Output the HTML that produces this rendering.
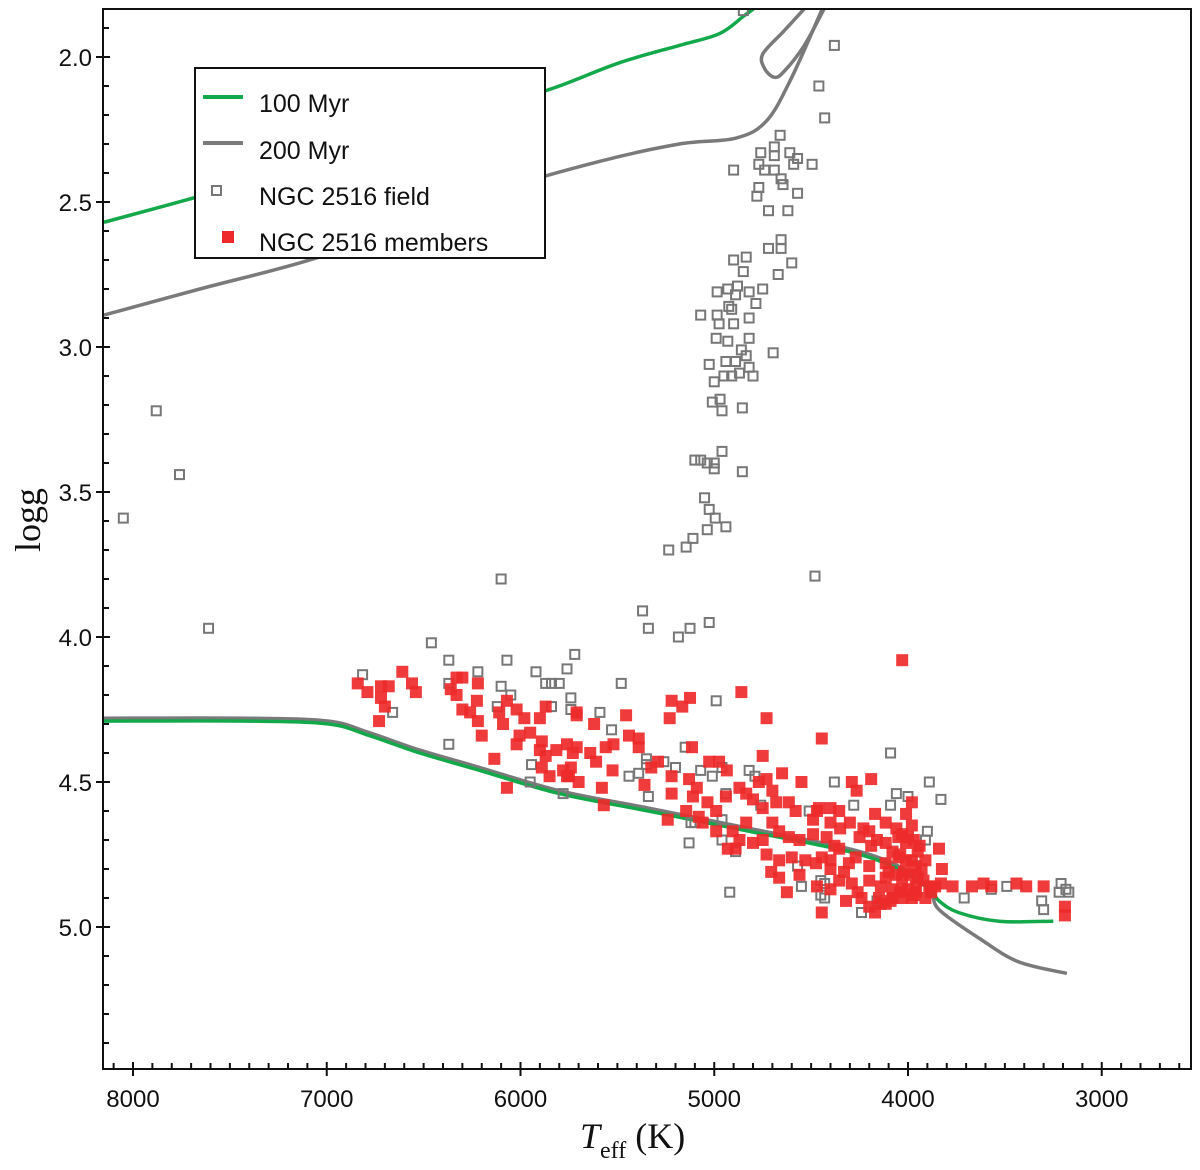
<!DOCTYPE html>
<html><head><meta charset="utf-8"><style>
html,body{margin:0;padding:0;background:#fff;}
svg{display:block;font-family:"Liberation Sans",sans-serif;}
</style></head><body>
<svg id="chart" width="1200" height="1170" viewBox="0 0 1200 1170" xmlns="http://www.w3.org/2000/svg">
<defs><clipPath id="plotclip"><rect x="103" y="9" width="1088" height="1060"/></clipPath></defs>
<g id="curves" clip-path="url(#plotclip)"></g>
<g id="fieldg" clip-path="url(#plotclip)"></g>
<g id="memg" clip-path="url(#plotclip)"></g>
<rect x="103" y="9" width="1088" height="1060" fill="none" stroke="#111" stroke-width="2"/>
<g id="axes"></g>
<text transform="translate(40,520) rotate(-90)" text-anchor="middle" font-family="Liberation Serif, serif" font-size="36" fill="#111">logg</text>
<text x="580" y="1148" font-family="Liberation Serif, serif" font-size="36" fill="#111"><tspan font-style="italic">T</tspan><tspan font-size="24" dy="10">eff</tspan><tspan dy="-10"> (K)</tspan></text>
<g>
<rect x="195" y="68" width="350" height="190" fill="#fff" stroke="#111" stroke-width="2"/>
<line x1="203" y1="97" x2="243" y2="97" stroke="#13a84a" stroke-width="4"/>
<text x="259" y="112" font-size="25" fill="#111">100 Myr</text>
<line x1="203" y1="143" x2="243" y2="143" stroke="#7a7a7a" stroke-width="4"/>
<text x="259" y="159" font-size="25" fill="#111">200 Myr</text>
<rect x="212" y="186" width="9" height="9" fill="none" stroke="#777" stroke-width="2"/>
<text x="259" y="205" font-size="25" fill="#111">NGC 2516 field</text>
<rect x="222" y="231" width="12" height="12" fill="#ee2a2a"/>
<text x="259" y="251" font-size="25" fill="#111">NGC 2516 members</text>
</g>
</svg>
<script>
const xTicks=[8000,7000,6000,5000,4000,3000];
const yTicks=[2.0,2.5,3.0,3.5,4.0,4.5,5.0];
const yTickLabels=["2.0","2.5","3.0","3.5","4.0","4.5","5.0"];
const iso100Upper=[[8150,2.57],[7655,2.48],[7140,2.38],[6625,2.29],[6110,2.17],[5800,2.10],[5490,2.02],[5180,1.96],[4975,1.92],[4850,1.86],[4790,1.83]];
const iso100Lower=[[8150,4.29],[7400,4.29],[6990,4.30],[6780,4.34],[6520,4.40],[6210,4.46],[5800,4.54],[5340,4.60],[4820,4.67],[4305,4.74],[4050,4.80],[3890,4.87],[3840,4.91],[3740,4.95],[3530,4.98],[3250,4.98]];
const iso200Upper=[[8150,2.89],[7655,2.80],[7140,2.71],[6625,2.60],[6110,2.46],[5593,2.36],[5180,2.30],[4890,2.28],[4730,2.22],[4600,2.07],[4440,1.83]];
const iso200Loop=[[4530,1.83],[4640,1.91],[4750,1.99],[4740,2.04],[4690,2.07],[4640,2.05],[4535,1.96],[4430,1.83]];
const iso200Lower=[[8150,4.28],[7400,4.28],[6990,4.29],[6780,4.33],[6520,4.39],[6210,4.45],[5800,4.53],[5340,4.59],[4820,4.66],[4305,4.73],[4050,4.79],[3890,4.87],[3840,4.94],[3630,5.04],[3430,5.12],[3180,5.16]];
const fieldT=[4850,4380,4460,4430,4660,4760,4690,4610,4570,4590,4495,4770,4900,4690,4740,4690,4655,4645,4770,4780,4570,4620,4720,4655,4720,4655,4600,4835,4900,4850,4670,4750,4880,4930,4985,4820,4890,4785,4925,4910,5070,4985,4820,4975,4900,4990,4930,4820,4860,4696,5026,4940,4890,4835,4870,4820,4800,4950,4910,5000,4970,5010,4960,4855,4960,5100,5070,5036,5000,5000,4855,5050,5026,4995,4940,5036,5110,5145,5235,4480,5370,5340,5185,5125,5026,
8050,7880,7760,7610,6100,6460,5720,5760,5480,5740,5740,5590,5530,4990,5150,4960,4380,5780,5440,5350,5260,5200,5070,5010,4820,5340,5100,5130,4960,4920,4550,4450,4450,4570,
6370,6070,5920,5870,5840,5800,6815,6220,6370,6100,6050,6120,5840,6660,6370,5943,5950,
4090,3890,4060,4000,3830,4280,4090,3900,3910,4430,4430,4240,4160,3710,3570,3490,3310,3300,3210,3185,3220,3170,
5350,5390,4790,4960,4890,5120,4760,4510,4940];
const fieldG=[1.84,1.96,2.10,2.21,2.27,2.33,2.31,2.33,2.35,2.37,2.37,2.37,2.39,2.34,2.39,2.39,2.42,2.44,2.45,2.48,2.47,2.53,2.53,2.63,2.66,2.66,2.71,2.69,2.70,2.74,2.75,2.80,2.79,2.80,2.81,2.81,2.82,2.85,2.86,2.87,2.89,2.89,2.90,2.92,2.92,2.97,2.98,2.97,3.01,3.02,3.06,3.05,3.05,3.03,3.09,3.07,3.10,3.10,3.10,3.12,3.18,3.19,3.22,3.21,3.36,3.39,3.39,3.40,3.40,3.42,3.43,3.52,3.56,3.59,3.62,3.63,3.66,3.69,3.70,3.79,3.91,3.97,4.00,3.97,3.95,
3.59,3.22,3.44,3.97,3.80,4.02,4.06,4.11,4.16,4.21,4.25,4.26,4.32,4.22,4.38,4.45,4.50,4.54,4.48,4.44,4.43,4.45,4.46,4.48,4.46,4.55,4.64,4.71,4.63,4.88,4.86,4.89,4.84,4.79,
4.08,4.08,4.12,4.16,4.16,4.16,4.13,4.12,4.16,4.17,4.20,4.24,4.24,4.26,4.37,4.44,4.50,
4.40,4.50,4.54,4.55,4.56,4.58,4.58,4.67,4.70,4.85,4.90,4.95,4.91,4.90,4.87,4.86,4.91,4.94,4.85,4.87,4.88,4.88,
4.42,4.47,4.48,4.70,4.74,4.64,4.58,4.60,4.54];
const memberT=[6840,6790,6720,6680,6720,6700,6730,6610,6560,6540,6330,6300,6360,6330,6220,6225,6300,6260,6220,6200,6135,6070,6070,6110,6090,6020,5980,5900,5870,6005,6020,5950,5890,5900,5870,5815,5760,5730,5890,5850,5780,5750,5710,
4860,5220,5125,5165,5230,4730,4445,5455,5620,5710,5440,5390,5390,5520,5560,5115,4750,5710,5640,5610,5740,5760,5700,5525,5580,5570,5360,5325,5290,5220,5220,5240,5026,4975,4935,5130,5090,5110,5035,5145,5080,5060,4990,4940,4870,4800,4770,4730,4650,4550,4700,4750,4680,4615,4580,4460,4400,4990,4905,4835,4870,4800,4750,4930,4890,4700,4665,4615,4560,4490,4420,4730,4665,4600,4530,4445,4706,4665,4560,4475,4400,4625,4470,4445,4400,4470,4490,4835,
4030,4290,4190,4265,4355,4400,4300,4170,4115,3980,4010,3980,4200,4250,4355,4270,4190,4115,4050,4010,3940,3840,4050,3980,3910,3825,4115,4200,4305,4400,4355,4290,4200,4115,4030,3960,4030,4080,3890,3830,3770,3670,3610,3570,3440,3390,3300,3190,3190,4170,4240,4320,3980,3910,4115,
4060,4030,4000,3970,3950,4080,4040,4010,3960,3930,4100,4060,4020,3990,3950,3920,4140,4080,4040,4000,3960,4150,4090,4030,3970,3880,3860,4230,4160,4350,4380,4330,4260,4200,4140];
const memberG=[4.16,4.19,4.17,4.17,4.21,4.24,4.29,4.12,4.16,4.19,4.14,4.14,4.18,4.20,4.16,4.22,4.25,4.26,4.29,4.34,4.42,4.52,4.22,4.26,4.30,4.25,4.28,4.28,4.24,4.34,4.37,4.33,4.36,4.39,4.41,4.39,4.37,4.40,4.45,4.48,4.46,4.48,4.26,
4.19,4.22,4.21,4.24,4.28,4.28,4.35,4.27,4.30,4.27,4.34,4.35,4.38,4.37,4.38,4.38,4.41,4.38,4.40,4.43,4.45,4.48,4.50,4.46,4.52,4.58,4.51,4.45,4.43,4.48,4.54,4.63,4.43,4.43,4.46,4.49,4.52,4.55,4.57,4.60,4.62,4.64,4.60,4.55,4.52,4.56,4.50,4.49,4.47,4.50,4.53,4.59,4.57,4.57,4.60,4.59,4.59,4.67,4.67,4.64,4.70,4.71,4.70,4.73,4.73,4.64,4.67,4.69,4.70,4.68,4.69,4.75,4.77,4.76,4.77,4.76,4.81,4.83,4.82,4.78,4.77,4.88,4.86,4.95,4.87,4.60,4.63,4.54,
4.08,4.50,4.49,4.53,4.60,4.64,4.64,4.61,4.64,4.57,4.61,4.65,4.67,4.69,4.73,4.76,4.72,4.71,4.69,4.71,4.72,4.73,4.76,4.77,4.77,4.80,4.78,4.79,4.78,4.80,4.84,4.85,4.84,4.83,4.83,4.86,4.87,4.90,4.86,4.85,4.86,4.86,4.85,4.86,4.85,4.86,4.86,4.93,4.96,4.95,4.90,4.91,4.90,4.90,4.92,
4.66,4.68,4.69,4.70,4.74,4.74,4.75,4.77,4.79,4.80,4.81,4.82,4.81,4.82,4.83,4.84,4.86,4.87,4.88,4.87,4.88,4.90,4.91,4.90,4.89,4.88,4.86,4.66,4.70,4.66,4.72,4.81,4.88,4.93,4.92];

const NS="http://www.w3.org/2000/svg";
function xs(T){return 133+(8000-T)*0.19375;}
function ys(g){return 57+(g-2)*290;}
function mk(tag,attrs,parent){const e=document.createElementNS(NS,tag);for(const k in attrs)e.setAttribute(k,attrs[k]);parent.appendChild(e);return e;}

const axes=document.getElementById('axes');
for(let T=8100;T>=2600;T-=100){
  const x=xs(T); if(x<103||x>1191)continue;
  const major=(T%1000===0);
  const t=mk('line',{x1:x,x2:x,y1:major?1062:1063,y2:major?1076:1069,stroke:'#111','stroke-width':2},axes);
  
  
}
xTicks.forEach(T=>{
  const t=mk('text',{x:xs(T),y:1107,'text-anchor':'middle','font-size':24,fill:'#111'},axes);
  t.textContent=String(T);
  
  
});
for(let i=18;i<=55;i++){
  const g=i/10; const y=ys(g); if(y<9||y>1069)continue;
  const major=(i%5===0);
  const t=mk('line',{x1:major?96:103,x2:major?110:109,y1:y,y2:y,stroke:'#111','stroke-width':2},axes);
  
  
}
yTicks.forEach((g,i)=>{
  const t=mk('text',{x:92,y:ys(g)+9,'text-anchor':'end','font-size':24,fill:'#111'},axes);
  t.textContent=yTickLabels[i];
  
  
});

const curves=document.getElementById('curves');
function pathOf(arr){
  const P=arr.map(p=>[xs(p[0]),ys(p[1])]);
  let d='M'+P[0][0].toFixed(1)+','+P[0][1].toFixed(1);
  for(let i=0;i<P.length-1;i++){
    const p0=P[Math.max(0,i-1)],p1=P[i],p2=P[i+1],p3=P[Math.min(P.length-1,i+2)];
    const c1=[p1[0]+(p2[0]-p0[0])/6,p1[1]+(p2[1]-p0[1])/6];
    const c2=[p2[0]-(p3[0]-p1[0])/6,p2[1]-(p3[1]-p1[1])/6];
    d+=' C'+c1[0].toFixed(1)+','+c1[1].toFixed(1)+' '+c2[0].toFixed(1)+','+c2[1].toFixed(1)+' '+p2[0].toFixed(1)+','+p2[1].toFixed(1);
  }
  return d;
}
[[iso200Upper,'#7a7a7a','isochrone-200myr-giant'],[iso200Loop,'#7a7a7a','isochrone-200myr-loop'],[iso200Lower,'#7a7a7a','isochrone-200myr-main-sequence'],[iso100Upper,'#13a84a','isochrone-100myr-giant'],[iso100Lower,'#13a84a','isochrone-100myr-main-sequence']].forEach(c=>{
  const p=mk('path',{d:pathOf(c[0]),fill:'none',stroke:c[1],'stroke-width':3.5,'stroke-linejoin':'round'},curves);
  
  
});

const fg=document.getElementById('fieldg');
fieldT.forEach((T,i)=>{
  const r=mk('rect',{x:xs(T)-4.5,y:ys(fieldG[i])-4.5,width:9,height:9,fill:'none',stroke:'#777','stroke-width':2},fg);
  
  
});
const mg=document.getElementById('memg');
memberT.forEach((T,i)=>{
  const r=mk('rect',{x:xs(T)-6,y:ys(memberG[i])-6,width:12,height:12,fill:'#ee2a2a','fill-opacity':0.92},mg);
  
  
});
</script>
</body></html>
